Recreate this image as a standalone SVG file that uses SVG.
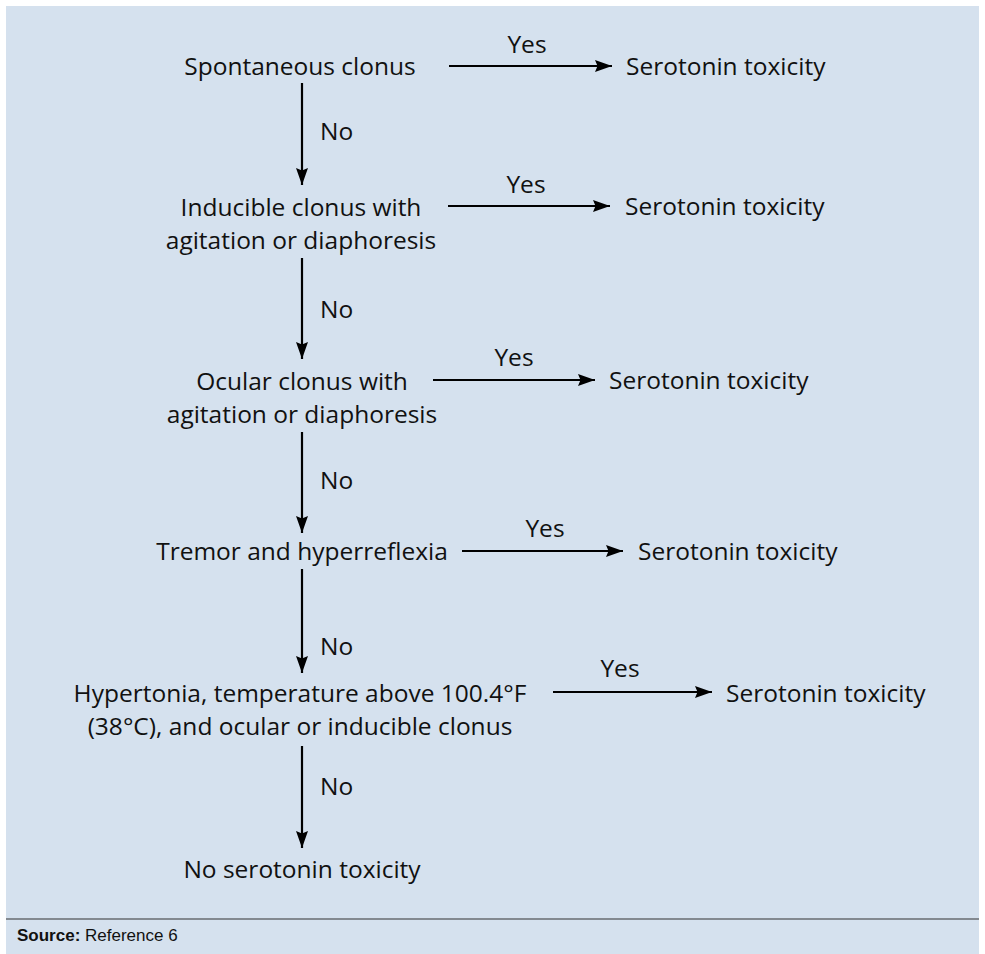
<svg xmlns="http://www.w3.org/2000/svg" width="985" height="954" viewBox="0 0 985 954">
<style>
.t{font-family:"Open Sans","Noto Sans",sans-serif;font-size:24.5px;fill:#111}
.m{text-anchor:middle}
.c{stroke:#000;stroke-width:2.2;fill:none}
.s{font-family:"Liberation Sans",Arial,sans-serif;font-size:17px;fill:#111}
</style>
<defs>
<marker id="a" viewBox="0 0 17 12" refX="17" refY="6" markerWidth="17" markerHeight="12" markerUnits="userSpaceOnUse" orient="auto">
<path d="M0,0 L17,6 L0,12 L2.5,6 z" fill="#000"/>
</marker>
</defs>
<rect x="0" y="0" width="985" height="954" fill="#fff"/>
<rect x="6" y="6" width="973" height="948" fill="#d5e1ee"/>
<line x1="6" y1="919" x2="979" y2="919" stroke="#333" stroke-width="1.2"/>
<text class="s" x="17" y="941"><tspan font-weight="bold">Source:</tspan> Reference 6</text>

<g id="connectors">
<line class="c" x1="449" y1="66" x2="612" y2="66" marker-end="url(#a)"/>
<line class="c" x1="448" y1="206" x2="610" y2="206" marker-end="url(#a)"/>
<line class="c" x1="433" y1="380" x2="595" y2="380" marker-end="url(#a)"/>
<line class="c" x1="462" y1="551" x2="623" y2="551" marker-end="url(#a)"/>
<line class="c" x1="553" y1="692" x2="712" y2="692" marker-end="url(#a)"/>
<line class="c" x1="302" y1="83" x2="302" y2="185" marker-end="url(#a)"/>
<line class="c" x1="302" y1="258" x2="302" y2="359" marker-end="url(#a)"/>
<line class="c" x1="302" y1="432" x2="302" y2="533" marker-end="url(#a)"/>
<line class="c" x1="302" y1="569" x2="302" y2="673" marker-end="url(#a)"/>
<line class="c" x1="302" y1="746" x2="302" y2="848" marker-end="url(#a)"/>
<text class="t m" x="527" y="53">Yes</text>
<text class="t m" x="526" y="193">Yes</text>
<text class="t m" x="514" y="366">Yes</text>
<text class="t m" x="545" y="537">Yes</text>
<text class="t m" x="620" y="677">Yes</text>
<text class="t" x="320" y="140">No</text>
<text class="t" x="320" y="318">No</text>
<text class="t" x="320" y="489">No</text>
<text class="t" x="320" y="655">No</text>
<text class="t" x="320" y="795">No</text>
</g>

<g id="q1"><text class="t m" x="300" y="75">Spontaneous clonus</text></g>
<g id="r1"><text class="t" x="626" y="75">Serotonin toxicity</text></g>
<g id="q2"><text class="t m" x="301" y="216">Inducible clonus with</text><text class="t m" x="301" y="249">agitation or diaphoresis</text></g>
<g id="r2"><text class="t" x="625" y="215">Serotonin toxicity</text></g>
<g id="q3"><text class="t m" x="302" y="390">Ocular clonus with</text><text class="t m" x="302" y="423">agitation or diaphoresis</text></g>
<g id="r3"><text class="t" x="609" y="389">Serotonin toxicity</text></g>
<g id="q4"><text class="t m" x="302" y="560">Tremor and hyperreflexia</text></g>
<g id="r4"><text class="t" x="638" y="560">Serotonin toxicity</text></g>
<g id="q5"><text class="t m" x="300" y="702">Hypertonia, temperature above 100.4°F</text><text class="t m" x="300" y="735">(38°C), and ocular or inducible clonus</text></g>
<g id="r5"><text class="t" x="726" y="702">Serotonin toxicity</text></g>
<g id="end"><text class="t m" x="302" y="878">No serotonin toxicity</text></g>
</svg>
